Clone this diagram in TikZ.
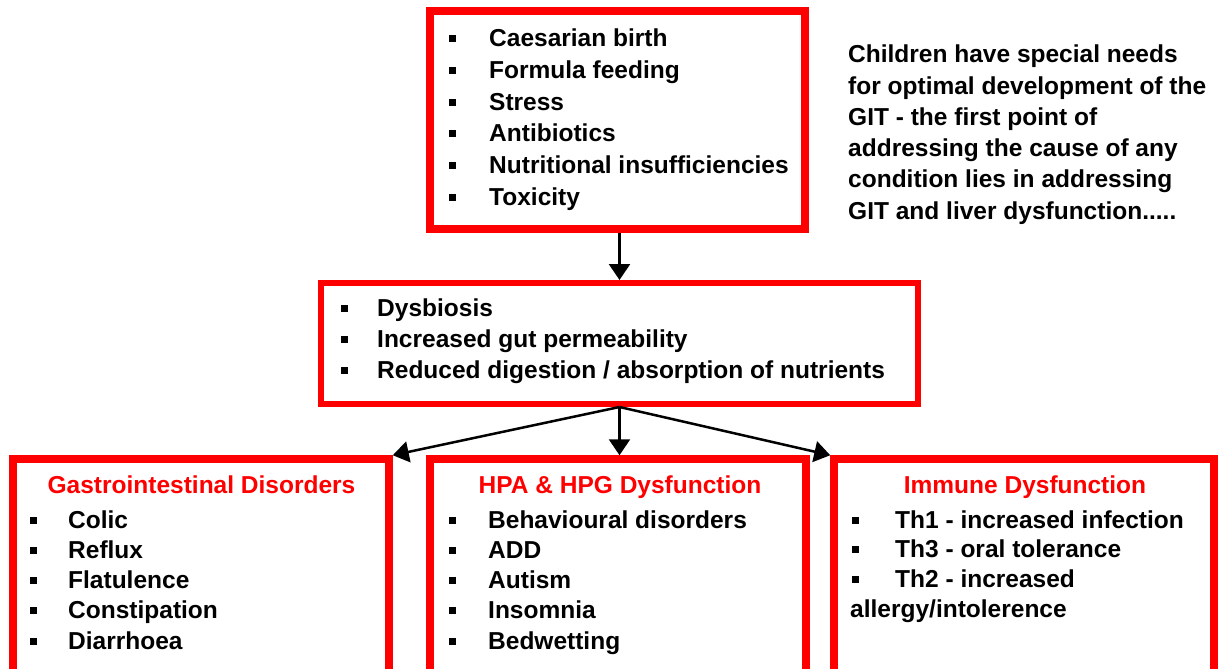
\documentclass[tikz,border=0pt]{standalone}
\usepackage{fontspec}
\setmainfont{Liberation Sans}
\usetikzlibrary{arrows.meta}
\definecolor{boxred}{RGB}{255,0,0}
\newcommand\itemfont{\fontsize{24.5}{30}\selectfont\bfseries}
\newcommand\bul{\rule[4.5pt]{7pt}{7pt}}
\newcommand\bitem[2]{\makebox[#1][l]{\bul}#2}
\newcommand\fivedots{.....}
\begin{document}
\begin{tikzpicture}[x=1pt,y=-1pt,
  box/.style={draw=boxred, fill=none, inner sep=0pt, line width=7.5pt},
  item/.style={anchor=base west, inner sep=0pt, font=\itemfont},
  head/.style={anchor=base, inner sep=0pt, font=\itemfont, text=boxred},
  arr/.style={-{Triangle[width=21pt,length=16pt]}, line width=2.5pt, black}]
\useasboundingbox (0,0) rectangle (1219,669);
\clip (0,0) rectangle (1219,669);

% boxes
\node[box, line width=8pt, minimum width=375pt, minimum height=218pt] (top) at (617.5,120) {};
\node[box, line width=6pt, minimum width=597pt, minimum height=121pt] (mid) at (619.5,343.5) {};
\node[box, minimum width=376pt, minimum height=261pt] (bl) at (201,589.5) {};
\node[box, minimum width=376pt, minimum height=261pt] (bm) at (618,589.5) {};
\node[box, minimum width=380pt, minimum height=261pt] (br) at (1024,589.5) {};

% top box items
\foreach \t [count=\i] in {Caesarian birth, Formula feeding, Stress, Antibiotics, Nutritional insufficiencies, Toxicity}
  \node[item] (ti\i) at (449,{47+31.6*(\i-1)}) {\bitem{40pt}{\t}};

% middle box items
\foreach \t [count=\i] in {Dysbiosis, Increased gut permeability, Reduced digestion / absorption of nutrients}
  \node[item] (mi\i) at (340.5,{316+31*(\i-1)}) {\bitem{36.5pt}{\t}};

% bottom left
\node[head] (blh) at (201.5,493) {Gastrointestinal Disorders};
\foreach \t [count=\i] in {Colic, Reflux, Flatulence, Constipation, Diarrhoea}
  \node[item] (bli\i) at (29.5,{528+30.3*(\i-1)}) {\bitem{38.5pt}{\t}};

% bottom middle
\node[head] (bmh) at (620,493) {HPA \& HPG Dysfunction};
\foreach \t [count=\i] in {Behavioural disorders, ADD, Autism, Insomnia, Bedwetting}
  \node[item] (bmi\i) at (448.5,{528+30.3*(\i-1)}) {\bitem{39.5pt}{\t}};

% bottom right
\node[head] (brh) at (1025,493) {Immune Dysfunction};
\foreach \t [count=\i] in {Th1 - increased infection, Th3 - oral tolerance, Th2 - increased}
  \node[item] (bri\i) at (851.5,{528+29.5*(\i-1)}) {\bitem{43.5pt}{\t}};
\node[item] (bri4) at (850,617) {allergy/intolerence};

% side note
\foreach \t [count=\i] in {Children have special needs, for optimal development of the, GIT - the first point of, addressing the cause of any, condition lies in addressing, GIT and liver dysfunction\fivedots}
  \node[item] (note\i) at (848,{63+31.2*(\i-1)}) {\t};

% connectors
\draw[arr] (mid.north |- top.south) -- (mid.north);
\draw[arr] (mid.south) -- (bl.north east);
\draw[arr] (mid.south) -- (mid.south |- bm.north);
\draw[arr] (mid.south) -- (br.north west);
\end{tikzpicture}
\end{document}
